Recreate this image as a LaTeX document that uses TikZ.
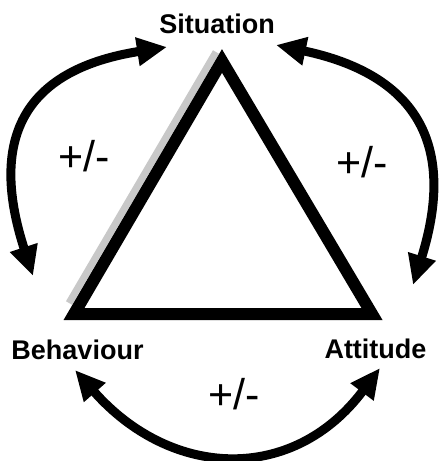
\documentclass[tikz,border=0pt]{standalone}
\usepackage{fontspec}
\setmainfont{Liberation Sans}
\definecolor{shadowgray}{HTML}{C8C8C8}
\usetikzlibrary{arrows.meta}

\begin{document}
\begin{tikzpicture}[x=1pt,y=-1pt,
  corner/.style={font=\bfseries\fontsize{27}{27}\selectfont,inner sep=0pt,anchor=base},
  sign/.style={font=\fontsize{43}{43}\selectfont,inner sep=0pt,anchor=base},
  link/.style={line width=9pt,{Triangle[length=30pt,width=27pt]}-{Triangle[length=30pt,width=27pt]}}]
  \useasboundingbox (0,0) rectangle (439,461);
  % triangle with grey edge on the left
  \coordinate (apex) at (222,61);
  \coordinate (bl) at (74,314);
  \coordinate (br) at (372,314);
  \draw[shadowgray,line width=7pt] (69,303) -- (216,52);
  \draw[line width=12pt,line join=miter] (apex) -- (bl) -- (br) -- cycle;
  % corner labels
  \node[corner] (sit) at (217,33) {Situation};
  \node[corner] (beh) at (77.5,359) {Behaviour};
  \node[corner] (att) at (375.5,358) {Attitude};
  % arrow ends
  \coordinate (sitL) at (167,47);
  \coordinate (sitR) at (276,45);
  \coordinate (behT) at (33,276);
  \coordinate (behB) at (75,370);
  \coordinate (attT) at (413,285);
  \coordinate (attB) at (380,368);
  % two-way arcs
  \draw[link] (behT) .. controls +(-46,-142) and +(-139,22) .. (sitL);
  \draw[link] (sitR) .. controls +(137,29) and +(45,-144) .. (attT);
  \draw[link] (behB) .. controls +(96,109) and +(-87,116) .. (attB);
  % signs
  \node[sign] (pmL) at (84,171) {+/-};
  \node[sign] (pmR) at (362.5,177) {+/-};
  \node[sign] (pmB) at (234.5,409) {+/-};
\end{tikzpicture}
\end{document}
